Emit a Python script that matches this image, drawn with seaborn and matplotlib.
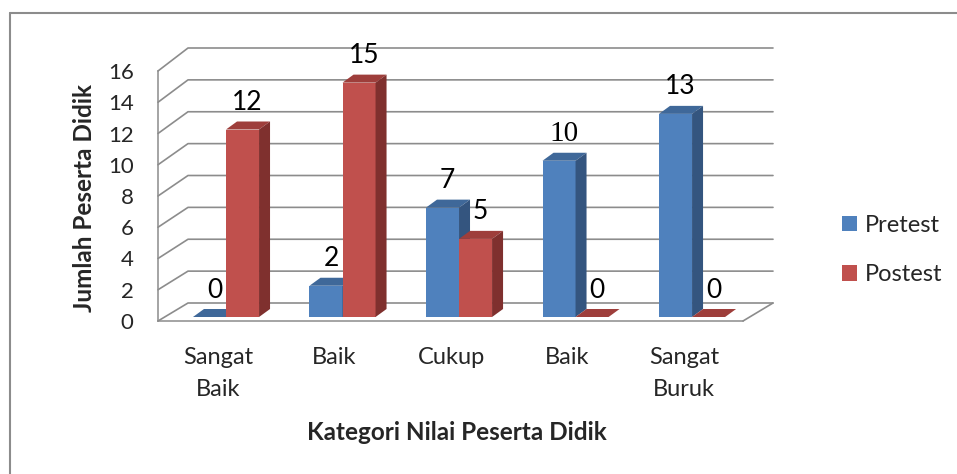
import numpy as np
import pandas as pd
import matplotlib
matplotlib.use("Agg")
import matplotlib.pyplot as plt
from matplotlib.patches import Polygon
from matplotlib.lines import Line2D
import matplotlib.transforms as mtransforms
import seaborn as sns

# ---------------- data ----------------
categories = ["Sangat\nBaik", "Baik", "Cukup", "Baik", "Sangat\nBuruk"]
series = ["Pretest", "Postest"]
pretest = [0, 2, 7, 10, 13]
postest = [12, 15, 5, 0, 0]
y_ticks = [0, 2, 4, 6, 8, 10, 12, 14, 16]
x_title = "Kategori Nilai Peserta Didik"
y_title = "Jumlah Peserta Didik"

df = pd.DataFrame({
    "pos": list(range(len(categories))) * 2,
    "value": pretest + postest,
    "series": [series[0]] * len(pretest) + [series[1]] * len(postest),
})

# ---------------- style ----------------
sns.set_style("white")
plt.rcParams["font.family"] = ["Lato", "DejaVu Sans"]

W, H, DPI = 957, 474, 100
fig = plt.figure(figsize=(W / DPI, H / DPI), dpi=DPI)
fig.patch.set_facecolor("white")

# front plane (pixel box, top-origin)
L, R, B, T = 158, 743, 321, 71
ax = fig.add_axes([L / W, 1 - B / H, (R - L) / W, (B - T) / H])
ax.set_facecolor("none")

front = {"Pretest": "#4F81BD", "Postest": "#C0504D"}
side = {"Pretest": "#34557F", "Postest": "#7F302E"}
topc = {"Pretest": "#3F6899", "Postest": "#9E3E3B"}
grid_col = "#8C8C8C"

sns.barplot(data=df, x="pos", y="value", hue="series", hue_order=series,
            palette=front, width=0.567, saturation=1, ax=ax, linewidth=0,
            legend=True, errorbar=None)

handles, labels = ax.get_legend_handles_labels()
if ax.get_legend() is not None:
    ax.get_legend().remove()

ax.set_xlim(-0.515, 4.506)
ax.set_ylim(y_ticks[0], y_ticks[-1])
ax.set_yticks(y_ticks)
ax.set_xticks(range(len(categories)))
ax.set_xticklabels(categories, fontsize=17, linespacing=1.65)
ax.tick_params(axis="x", length=0, pad=19)
ax.tick_params(axis="y", length=5.5, width=1.1, color=grid_col, pad=12, labelsize=16, direction="out")
for s in ["top", "right"]:
    ax.spines[s].set_visible(False)
for s in ["left", "bottom"]:
    ax.spines[s].set_color(grid_col)
    ax.spines[s].set_linewidth(1.1)
    ax.spines[s].set_zorder(1)

ax.set_xlabel(x_title, fontsize=17.5, fontweight="bold", va="center")
ax.set_ylabel(y_title, fontsize=17.5, fontweight="bold", va="center")
ax.xaxis.set_label_coords((457 - L) / (R - L), (B - 433) / (B - T))
ax.yaxis.set_label_coords((84 - L) / (R - L), (B - 198) / (B - T))

fig.canvas.draw()
to_axes = ax.transAxes.inverted()


def disp2ax(pts):
    return to_axes.transform(np.asarray(pts, dtype=float))


# ---------------- back wall / floor (3D frame) ----------------
DXW = 30.0
xmin, xmax = ax.get_xlim()
for v in y_ticks:
    fx, fy = ax.transData.transform((xmin, v))
    rx, _ = ax.transData.transform((xmax, v))
    dyw = 18.0 + 5.0 * (v - y_ticks[0]) / (y_ticks[-1] - y_ticks[0])
    pts = disp2ax([(fx, fy), (fx + DXW, fy + dyw), (rx + DXW, fy + dyw)])
    ax.add_line(Line2D(pts[:, 0], pts[:, 1], transform=ax.transAxes, color=grid_col,
                       lw=1.2, zorder=1, clip_on=False))
# floor right edge
fx, fy = ax.transData.transform((xmax, 0))
pts = disp2ax([(fx, fy), (fx + DXW, fy + 18.0)])
ax.add_line(Line2D(pts[:, 0], pts[:, 1], transform=ax.transAxes, color=grid_col,
                   lw=1.2, zorder=1, clip_on=False))

# ---------------- 3D bars ----------------
OX, OY = 8, 4        # bar placement depth
DX, DY = 11, 8       # bar depth
values = {"Pretest": pretest, "Postest": postest}
shift = mtransforms.offset_copy(ax.transData, fig=fig, x=OX, y=OY, units="dots")

for i, (cont, name) in enumerate(zip(ax.containers, series)):
    z = 3 + i
    for j, rect in enumerate(cont.patches):
        rect.set_transform(shift)
        rect.set_zorder(z)
        x0, w, h = rect.get_x(), rect.get_width(), rect.get_height()
        (xl, yb), (xr, yt) = ax.transData.transform([(x0, 0), (x0 + w, h)])
        xl, xr, yb, yt = xl + OX, xr + OX, yb + OY, yt + OY
        top_face = disp2ax([(xl, yt), (xr, yt), (xr + DX, yt + DY), (xl + DX, yt + DY)])
        ax.add_patch(Polygon(top_face, closed=True, transform=ax.transAxes,
                             facecolor=topc[name], edgecolor="none", zorder=z + 0.1, clip_on=False))
        if h > 0:
            side_face = disp2ax([(xr, yb), (xr + DX, yb + DY), (xr + DX, yt + DY), (xr, yt)])
            ax.add_patch(Polygon(side_face, closed=True, transform=ax.transAxes,
                                 facecolor=side[name], edgecolor="none", zorder=z + 0.1, clip_on=False))
        # value label
        val = values[name][j]
        if val == 10:
            fam, fs = ["Liberation Serif"], 21
        else:
            fam, fs = ["Lato", "DejaVu Sans"], 19
        lx, ly = disp2ax([((xl + xr) / 2 + 5, yt + 27)])[0]
        ax.text(lx, ly, f"{val}", transform=ax.transAxes, ha="center", va="center",
                fontsize=fs, family=fam, color="black", zorder=6)

# ---------------- legend ----------------
leg = fig.legend(handles, labels, loc="center left",
                 bbox_to_anchor=(842 / W, 1 - 250 / H), frameon=False,
                 fontsize=17, handlelength=0.64, handleheight=0.64,
                 handletextpad=0.34, labelspacing=1.2, borderpad=0, borderaxespad=0)

# ---------------- chart border (left & top) ----------------
fig.add_artist(Line2D([10 / W, 10 / W], [0, 1 - 13 / H], transform=fig.transFigure,
                      color="#8C8C8C", lw=1.5))
fig.add_artist(Line2D([10 / W, 1], [1 - 13 / H, 1 - 13 / H], transform=fig.transFigure,
                      color="#8C8C8C", lw=1.5))

fig.savefig("out.png", dpi=DPI)
